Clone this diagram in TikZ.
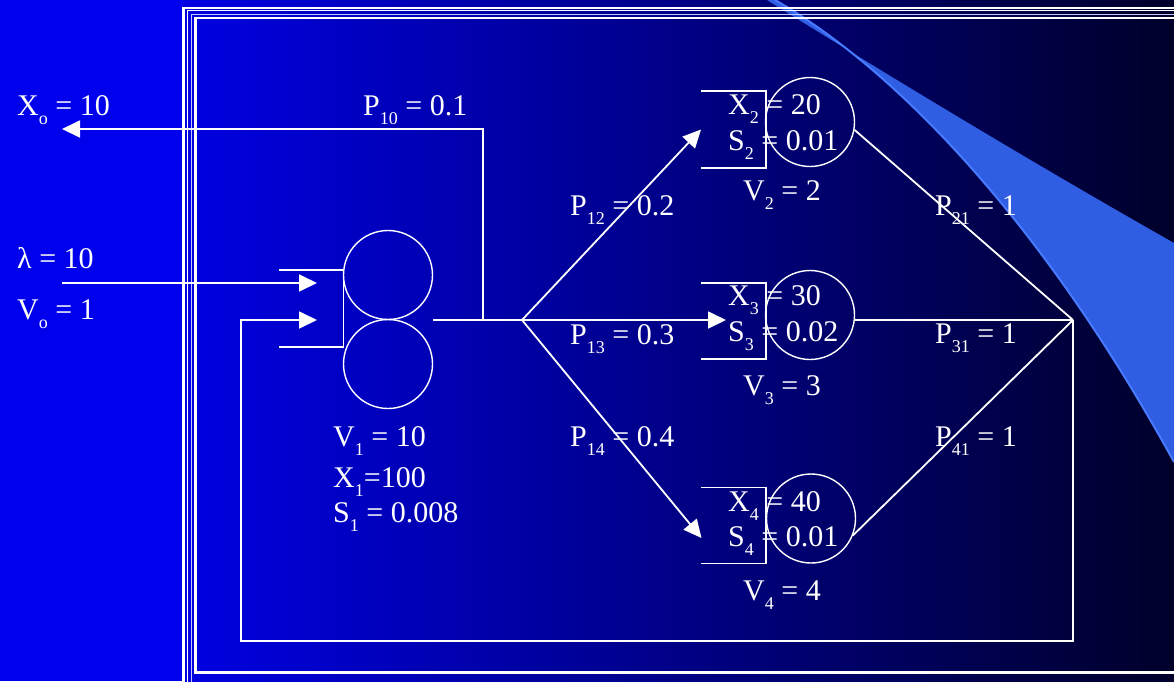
\documentclass[tikz,border=0pt]{standalone}
\usepackage{fontspec}
\setmainfont{Liberation Serif}
\usetikzlibrary{arrows.meta}
\definecolor{slideblue}{RGB}{0,0,236}
\definecolor{deepblue}{RGB}{0,0,226}
\definecolor{midblue}{RGB}{0,0,145}
\definecolor{nightblue}{RGB}{0,0,42}
\definecolor{swoosh}{RGB}{48,94,226}
\definecolor{swooshedge}{RGB}{72,122,255}
\definecolor{paleline}{RGB}{190,200,255}
\newcommand{\sbs}[1]{\raisebox{-9pt}{\fontsize{18}{20}\selectfont #1}}
\tikzset{
  wire/.style={draw=white, line width=1.8pt},
  arr/.style={wire, -{Triangle[length=18pt,width=17pt]}},
  station/.style={circle, draw=white, line width=1.4pt, minimum size=89pt, inner sep=0pt},
  lbl/.style={text=white, inner sep=0pt, anchor=base west, font=\fontsize{30}{36}\selectfont},
}

\begin{document}
\begin{tikzpicture}[x=1pt,y=-1pt]
  \useasboundingbox (0,0) rectangle (1174,681);
  \clip (0,0) rectangle (1174,681);
  % slide background
  \fill[slideblue] (0,0) rectangle (1174,681);
  \shade[left color=deepblue, middle color=midblue, right color=nightblue] (183,0) rectangle (1174,681);
  \fill[swoosh] (767,0) .. controls (860,58) and (1010,150) .. (1174,243) -- (1174,462) .. controls (1030,200) and (880,60) .. (775,0) -- cycle;
  \draw[swooshedge, line width=2pt] (1174,462) .. controls (1030,200) and (880,60) .. (775,0);
  % frame
  \draw[white, line width=2.6pt] (1180,8) -| (183.5,690);
  \draw[white, line width=1.6pt] (1180,10.5) -| (187.5,690);
  \draw[paleline, line width=1.6pt] (1180,14.5) -| (191.5,690);
  \draw[white, line width=2.6pt] (1180,18) -| (195.5,672.5) -- (1180,672.5);

  % stations
  \node[station] (q1a) at (388,275) {};
  \node[station] (q1b) at (388,364) {};
  \node[station] (q2) at (810,122) {};
  \node[station] (q3) at (810,315) {};
  \node[station] (q4) at (811,518.5) {};
  \draw[wire] (279,270) -| (343.5,347) -- (279,347);
  \draw[wire] (701,91) -| (766,168) -- (701,168);
  \draw[wire] (701,283) -| (766,359) -- (701,359);
  \draw[wire] (701,487.5) -| (766,563.5) -- (701,563.5);

  % texts
  \node[lbl] (xo) at (17,115) {X\sbs{o} = 10};
  \node[lbl] (lam) at (17,268) {λ = 10};
  \node[lbl] (vo) at (17,319) {V\sbs{o} = 1};
  \node[lbl] (p10) at (363,115) {P\sbs{10} = 0.1};
  \node[lbl] (p12) at (570,215) {P\sbs{12} = 0.2};
  \node[lbl] (p13) at (570,344) {P\sbs{13} = 0.3};
  \node[lbl] (p14) at (570,446.5) {P\sbs{14} = 0.4};
  \node[lbl] (p21) at (935,215) {P\sbs{21} = 1};
  \node[lbl] (p31) at (935,343.5) {P\sbs{31} = 1};
  \node[lbl] (p41) at (935,446.5) {P\sbs{41} = 1};
  \node[lbl] (v1) at (333,446) {V\sbs{1} = 10};
  \node[lbl] (x1) at (333,487) {X\sbs{1}=100};
  \node[lbl] (s1) at (333,522) {S\sbs{1} = 0.008};
  \node[lbl] (x2) at (728,114) {X\sbs{2} = 20};
  \node[lbl] (s2) at (728,150) {S\sbs{2} = 0.01};
  \node[lbl] (v2) at (743,200) {V\sbs{2} = 2};
  \node[lbl] (x3) at (728,305) {X\sbs{3} = 30};
  \node[lbl] (s3) at (728,341.5) {S\sbs{3} = 0.02};
  \node[lbl] (v3) at (743,395) {V\sbs{3} = 3};
  \node[lbl] (x4) at (728,511) {X\sbs{4} = 40};
  \node[lbl] (s4) at (728,546.5) {S\sbs{4} = 0.01};
  \node[lbl] (v4) at (743,600) {V\sbs{4} = 4};

  % connection points
  \coordinate (out1) at (433,320);
  \coordinate (tap) at (483,320);
  \coordinate (j) at (522,320);
  \coordinate (m) at (1073,320);
  \coordinate (exit) at (62,129);
  \coordinate (src) at (62,283);
  \coordinate (in1a) at (317,283);
  \coordinate (in1b) at (317,320);
  \coordinate (corner) at (241,641);
  \coordinate (in2) at (701,129.5);
  \coordinate (in3) at (726,320);
  \coordinate (in4) at (701.5,538);

  \draw[wire] (out1) -- (j);
  \draw[arr] (tap) |- (exit);
  \draw[arr] (j) -- (in2);
  \draw[arr] (j) -- (in3);
  \draw[arr] (j) -- (in4);
  \draw[wire] (q2.-10) -- (m);
  \draw[wire] (q3.east |- m) -- (m);
  \draw[wire] (q4.-22) -- (m);
  \draw[arr] (m) |- (corner) |- (in1b);
  \draw[arr] (src) -- (in1a);
\end{tikzpicture}
\end{document}
